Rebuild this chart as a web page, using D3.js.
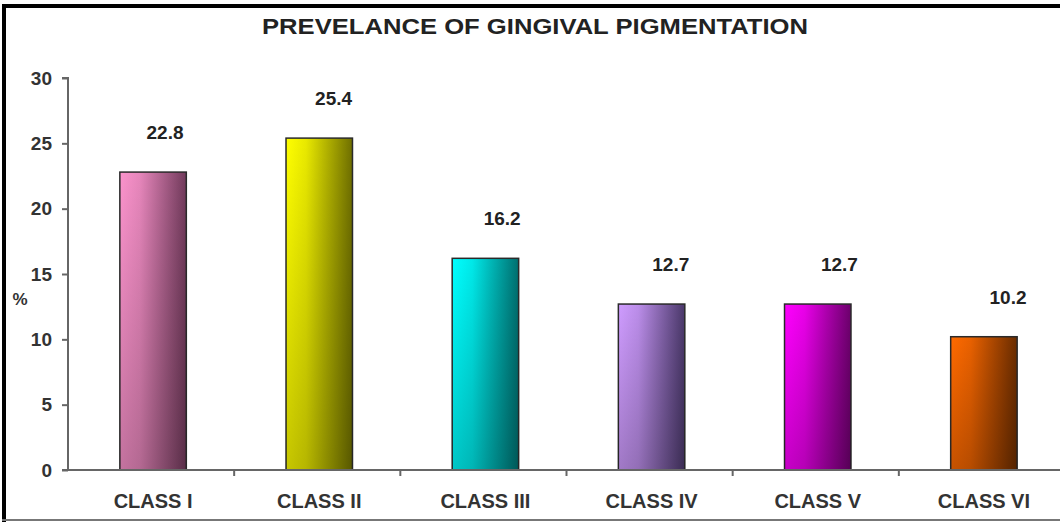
<!DOCTYPE html>
<html>
<head>
<meta charset="utf-8">
<script src="https://cdn.jsdelivr.net/npm/d3@7"></script>
<style>
  body { margin: 0; background: #fff; }
  svg { display: block; font-family: "Liberation Sans", Arial, sans-serif; }
</style>
</head>
<body>
<svg></svg>
<script>
let categories = ["CLASS I", "CLASS II", "CLASS III", "CLASS IV", "CLASS V", "CLASS VI"];
let values = [22.8, 25.4, 16.2, 12.7, 12.7, 10.2];
let yTicks = [0, 5, 10, 15, 20, 25, 30];
let lightColors = ["#fb93cc", "#ffff00", "#00ffff", "#cf9cff", "#ff00ff", "#ff6a00"];
let darkColors = ["#713a5b", "#6f6f00", "#006f6f", "#4a386a", "#6c006c", "#6a2c00"];

let width = 1060;
let height = 524;
let plotLeft = 68;
let plotRight = 1064;
let plotTop = 78;
let plotBottom = 470;

let svg = d3.select("svg").attr("width", width).attr("height", height);

// gradients
let defs = svg.append("defs");
categories.forEach((c, i) => {
  let g = defs.append("linearGradient").attr("id", "grad" + i)
    .attr("x1", "0").attr("x2", "1").attr("y1", "0").attr("y2", "0");
  g.append("stop").attr("offset", "0%").attr("stop-color", lightColors[i]);
  g.append("stop").attr("offset", "30%").attr("stop-color", d3.interpolateRgb(lightColors[i], darkColors[i])(0.15));
  g.append("stop").attr("offset", "100%").attr("stop-color", darkColors[i]);
});
let shade = defs.append("linearGradient").attr("id", "shade")
  .attr("x1", "0").attr("x2", "0").attr("y1", "0").attr("y2", "1");
shade.append("stop").attr("offset", "0%").attr("stop-color", "#000").attr("stop-opacity", 0);
shade.append("stop").attr("offset", "100%").attr("stop-color", "#000").attr("stop-opacity", 0.22);

// frame
svg.append("line").attr("x1", 4).attr("x2", 4).attr("y1", 4).attr("y2", 522)
  .attr("stroke", "#000").attr("stroke-width", 4);
svg.append("line").attr("x1", 2).attr("x2", width).attr("y1", 6).attr("y2", 6)
  .attr("stroke", "#000").attr("stroke-width", 4);
svg.append("line").attr("x1", 2).attr("x2", width).attr("y1", 520).attr("y2", 520)
  .attr("stroke", "#777").attr("stroke-width", 2);

let xScale = d3.scaleBand().domain(categories).range([70, 1067])
  .paddingInner(0.6).paddingOuter(0.3);
let labelScale = d3.scalePoint().domain(categories).range([165, 1008]);
let yScale = d3.scaleLinear().domain([0, 30]).range([plotBottom, plotTop]);

// title
svg.append("text")
  .attr("x", 535).attr("y", 34)
  .attr("text-anchor", "middle")
  .attr("font-size", 22).attr("font-weight", "bold")
  .attr("fill", "#222")
  .attr("textLength", 546).attr("lengthAdjust", "spacingAndGlyphs")
  .text("PREVELANCE OF GINGIVAL PIGMENTATION");

// bars
let bars = svg.selectAll(".bar").data(values).enter().append("g");
bars.append("rect")
  .attr("x", (d, i) => xScale(categories[i]))
  .attr("y", (d) => yScale(d))
  .attr("width", xScale.bandwidth())
  .attr("height", (d) => yScale(0) - yScale(d))
  .attr("fill", (d, i) => "url(#grad" + i + ")")
  .attr("stroke", "#2a2a2a").attr("stroke-width", 1.5);
bars.append("rect")
  .attr("x", (d, i) => xScale(categories[i]))
  .attr("y", (d) => yScale(d))
  .attr("width", xScale.bandwidth())
  .attr("height", (d) => yScale(0) - yScale(d))
  .attr("fill", "url(#shade)");

// value labels
svg.selectAll(".val").data(values).enter().append("text")
  .attr("x", (d, i) => labelScale(categories[i]))
  .attr("y", (d) => yScale(d) - 33)
  .attr("text-anchor", "middle")
  .attr("font-size", 19).attr("font-weight", "bold")
  .attr("fill", "#222")
  .text((d) => d.toFixed(1));

// axes
let yAxis = d3.axisLeft(yScale).tickValues(yTicks).tickSize(6).tickPadding(10);
let gy = svg.append("g").attr("transform", "translate(" + plotLeft + ",0)").call(yAxis);
gy.select(".domain").attr("stroke", "#666").attr("stroke-width", 2).attr("d", "M-6," + plotTop + "H0V" + plotBottom);
gy.selectAll(".tick line").attr("stroke", "#666").attr("stroke-width", 2);
gy.selectAll(".tick text").attr("font-size", 19).attr("font-weight", "bold")
  .attr("fill", "#333").attr("font-family", "Liberation Sans, Arial, sans-serif");

let gx = svg.append("g").attr("transform", "translate(0," + plotBottom + ")");
gx.append("line").attr("x1", plotLeft - 6).attr("x2", plotRight).attr("y1", 0).attr("y2", 0)
  .attr("stroke", "#666").attr("stroke-width", 2);
gx.selectAll(".sep").data(categories.slice(1)).enter().append("line")
  .attr("x1", (d) => xScale(d) - xScale.step() * 0.3 - 2)
  .attr("x2", (d) => xScale(d) - xScale.step() * 0.3 - 2)
  .attr("y1", 0).attr("y2", 6)
  .attr("stroke", "#666").attr("stroke-width", 2);
gx.selectAll(".cat").data(categories).enter().append("text")
  .attr("x", (d) => xScale(d) + xScale.bandwidth() / 2)
  .attr("y", 38)
  .attr("text-anchor", "middle")
  .attr("font-size", 20).attr("font-weight", "bold")
  .attr("fill", "#333")
  .text((d) => d);

// y label
svg.append("text").attr("x", 20).attr("y", 305)
  .attr("text-anchor", "middle")
  .attr("font-size", 17).attr("font-weight", "bold").attr("fill", "#333")
  .text("%");
</script>
</body>
</html>
